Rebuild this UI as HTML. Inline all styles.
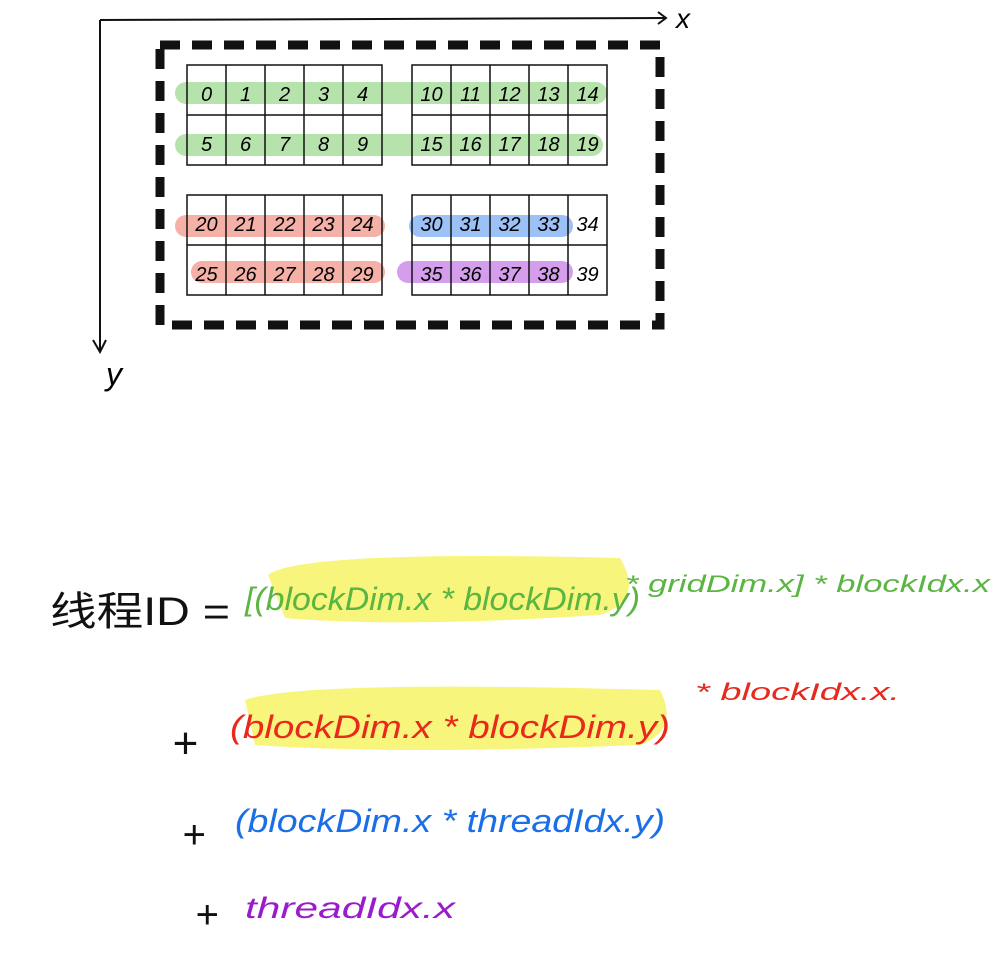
<!DOCTYPE html>
<html><head><meta charset="utf-8"><style>
html,body{margin:0;padding:0;background:#fff;}
svg{display:block;}
text{font-family:"Liberation Sans","Noto Sans CJK SC",sans-serif;}
</style></head><body>
<svg id="s" width="999" height="962" viewBox="0 0 999 962">
<g stroke="#111" stroke-width="2" fill="none">
<path d="M100 20 L665 18"/>
<path d="M658 12 L666 18 L658 24"/>
<path d="M100 20 L100 350"/>
<path d="M93 340 L100 352 L106 340"/>
</g>
<text x="676" y="28" font-size="28" font-style="italic">x</text>
<text x="106" y="385" font-size="32" font-style="italic">y</text>
<rect x="160" y="45" width="500" height="280" fill="none" stroke="#111" stroke-width="9" stroke-dasharray="20 12"/>
<g stroke-linecap="round" stroke-width="22" opacity="0.55">
<line x1="186" y1="93" x2="596" y2="93" stroke="#7ccc6a"/>
<line x1="186" y1="145" x2="592" y2="145" stroke="#7ccc6a"/>
<line x1="186" y1="226" x2="374" y2="226" stroke="#ee7060"/>
<line x1="202" y1="272" x2="374" y2="272" stroke="#ee7060"/>
<line x1="420" y1="226" x2="562" y2="226" stroke="#4d8ff0"/>
<line x1="408" y1="272" x2="562" y2="272" stroke="#b34fe0"/>
</g>
<g id="blocks"></g>
<g font-style="italic">
<path d="M268 575 Q300 550 620 558 Q645 600 600 615 Q400 628 285 618 Z" fill="#f5f35a" opacity="0.8"/>
<path d="M245 700 Q300 680 660 690 Q680 730 640 745 Q400 755 255 745 Z" fill="#f5f35a" opacity="0.8"/>
<text x="50" y="625" font-size="40" fill="#111" font-style="normal" textLength="180" lengthAdjust="spacingAndGlyphs">线程ID =</text>
<text x="245" y="610" font-size="32" fill="#5ab543" textLength="395" lengthAdjust="spacingAndGlyphs">[(blockDim.x * blockDim.y)</text>
<text x="625" y="592" font-size="24" fill="#5ab543" textLength="365" lengthAdjust="spacingAndGlyphs">* gridDim.x] * blockIdx.x</text>
<text x="172" y="758" font-size="44" fill="#111">+</text>
<text x="230" y="738" font-size="32" fill="#e8291c" textLength="440" lengthAdjust="spacingAndGlyphs">(blockDim.x  * blockDim.y)</text>
<text x="695" y="700" font-size="24" fill="#e8291c" textLength="205" lengthAdjust="spacingAndGlyphs">* blockIdx.x.</text>
<text x="182" y="848" font-size="40" fill="#111">+</text>
<text x="235" y="832" font-size="32" fill="#1a6fe8" textLength="430" lengthAdjust="spacingAndGlyphs">(blockDim.x * threadIdx.y)</text>
<text x="195" y="928" font-size="40" fill="#111">+</text>
<text x="245" y="918" font-size="30" fill="#9a1bcc" textLength="210" lengthAdjust="spacingAndGlyphs">threadIdx.x</text>
</g>
</svg>
<script>
const blockOrigins=[[187,65],[412,65],[187,195],[412,195]];
const ns="http://www.w3.org/2000/svg";
const g=document.getElementById('blocks');
blockOrigins.forEach((o,b)=>{
  const r=document.createElementNS(ns,'rect');
  r.setAttribute('x',o[0]);r.setAttribute('y',o[1]);r.setAttribute('width',195);r.setAttribute('height',100);
  r.setAttribute('fill','none');r.setAttribute('stroke','#111');r.setAttribute('stroke-width','1.5');
  
  
  g.appendChild(r);
  for(let i=1;i<5;i++){const l=document.createElementNS(ns,'line');
    l.setAttribute('x1',o[0]+i*39);l.setAttribute('x2',o[0]+i*39);l.setAttribute('y1',o[1]);l.setAttribute('y2',o[1]+100);
    l.setAttribute('stroke','#111');l.setAttribute('stroke-width','1.5');
    
    
    g.appendChild(l);}
  const h=document.createElementNS(ns,'line');
  h.setAttribute('x1',o[0]);h.setAttribute('x2',o[0]+195);h.setAttribute('y1',o[1]+50);h.setAttribute('y2',o[1]+50);
  h.setAttribute('stroke','#111');h.setAttribute('stroke-width','1.5');
  
  
  g.appendChild(h);
  for(let rr=0;rr<2;rr++)for(let c=0;c<5;c++){
    const t=document.createElementNS(ns,'text');
    t.setAttribute('x',o[0]+c*39+19.5);t.setAttribute('y',o[1]+rr*50+36);
    t.setAttribute('text-anchor','middle');t.setAttribute('font-size','20');t.setAttribute('font-style','italic');
    t.textContent=b*10+rr*5+c;
    
    
    g.appendChild(t);}
});
</script>
</body></html>
